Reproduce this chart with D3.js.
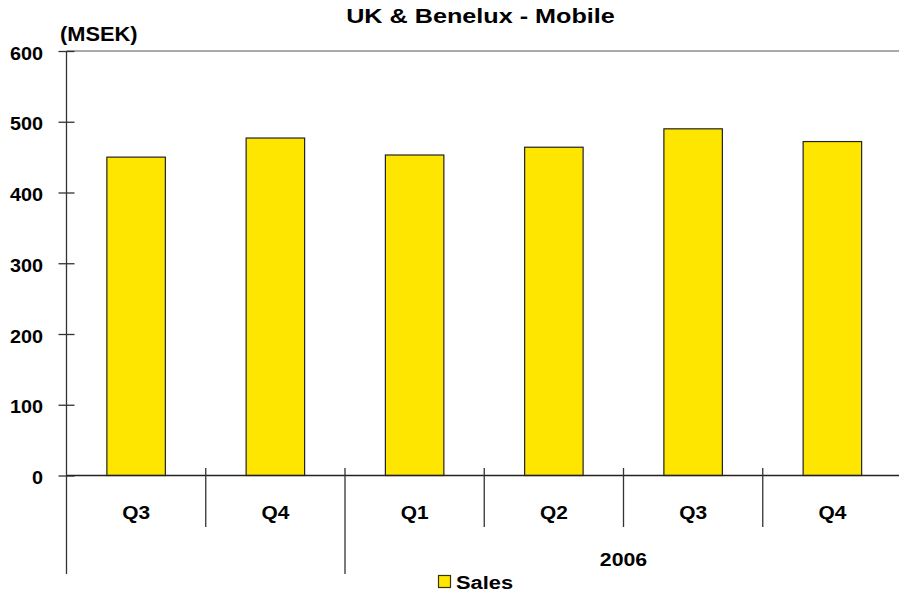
<!DOCTYPE html>
<html>
<head>
<meta charset="utf-8">
<script src="https://cdn.jsdelivr.net/npm/d3@7"></script>
<style>
  body { margin: 0; background: #fff; }
  svg text { font-family: "Liberation Sans", Arial, sans-serif; font-weight: bold; fill: #000; }
</style>
</head>
<body>
<svg id="chart" width="899" height="594"></svg>
<script>
// Quarterly sales, MSEK
const quarters = ["Q3", "Q4", "Q1", "Q2", "Q3", "Q4"];
const years = ["", "", "2006", "2006", "2006", "2006"];
const sales = [450, 477, 453, 464, 490, 472];
const yTicks = [0, 100, 200, 300, 400, 500, 600];

const svg = d3.select("#chart");
const plotLeft = 66.5, plotRight = 902, plotTop = 51, plotBottom = 475.5;

const idx = d3.range(quarters.length);
const x = d3.scaleBand().domain(idx).range([plotLeft, plotRight]).paddingInner(0.58).paddingOuter(0.29);
const y = d3.scaleLinear().domain([0, 600]).range([plotBottom, plotTop]);
const step = x.step();

// Text helper: wide bold lettering, stretched horizontally about its anchor
function label(parent, tx, ty, str, size, anchor, sx) {
  return parent.append("g").attr("transform", `translate(${tx},${ty}) scale(${sx},1)`)
    .append("text").attr("text-anchor", anchor).style("font-size", size + "px").text(str);
}

// Title and unit
label(svg, 480.5, 23, "UK & Benelux - Mobile", 21, "middle", 1.2);
label(svg, 60, 41, "(MSEK)", 19.5, "start", 1.12);

// Top frame line
svg.append("line").attr("x1", plotLeft).attr("x2", 899).attr("y1", y(600)).attr("y2", y(600))
  .attr("stroke", "#555").attr("stroke-width", 1.2);

// Bars
svg.selectAll("rect.bar").data(sales).join("rect").attr("class", "bar")
  .attr("x", (d, i) => x(i)).attr("width", x.bandwidth())
  .attr("y", d => y(d)).attr("height", d => y(0) - y(d))
  .attr("fill", "#FFE600").attr("stroke", "#222").attr("stroke-width", 1.2);

// Y axis: ticks cross the axis line
const yAxis = d3.axisLeft(y).tickValues(yTicks).tickSize(8).tickFormat("");
const gy = svg.append("g").attr("transform", `translate(${plotLeft},0)`).call(yAxis);
gy.select(".domain").remove();
gy.selectAll(".tick line").attr("x2", 8).attr("x1", -8).attr("stroke", "#333").attr("stroke-width", 1.3);
yTicks.forEach(v => label(svg, plotLeft - 23.5, y(v) + 8.5, String(v), 18, "end", 1.1));
svg.append("line").attr("x1", plotLeft).attr("x2", plotLeft).attr("y1", plotTop).attr("y2", 574)
  .attr("stroke", "#333").attr("stroke-width", 1.3);

// Baseline
svg.append("line").attr("x1", plotLeft).attr("x2", 899).attr("y1", y(0)).attr("y2", y(0))
  .attr("stroke", "#222").attr("stroke-width", 1.3);

// Category separators: long ones between years, short ones between quarters
idx.slice(1).forEach(i => {
  const xs = plotLeft + i * step;
  const yearBreak = years[i] !== years[i - 1];
  svg.append("line").attr("x1", xs).attr("x2", xs)
    .attr("y1", 468).attr("y2", yearBreak ? 574 : 527)
    .attr("stroke", "#333").attr("stroke-width", 1.3);
});

// Quarter labels
quarters.forEach((q, i) => label(svg, plotLeft + (i + 0.5) * step, 518.5, q, 18, "middle", 1.16));

// Year labels centered under their quarters
d3.groups(idx, i => years[i]).forEach(([yr, is]) => {
  if (!yr) return;
  const cx = plotLeft + (d3.min(is) + d3.max(is) + 1) / 2 * step;
  label(svg, cx, 565.5, yr, 19, "middle", 1.12);
});

// Legend
svg.append("rect").attr("x", 438.5).attr("y", 575.5).attr("width", 12).attr("height", 12)
  .attr("fill", "#FFE600").attr("stroke", "#3a3400").attr("stroke-width", 1.2);
label(svg, 456, 588.5, "Sales", 19, "start", 1.15);
</script>
</body>
</html>
